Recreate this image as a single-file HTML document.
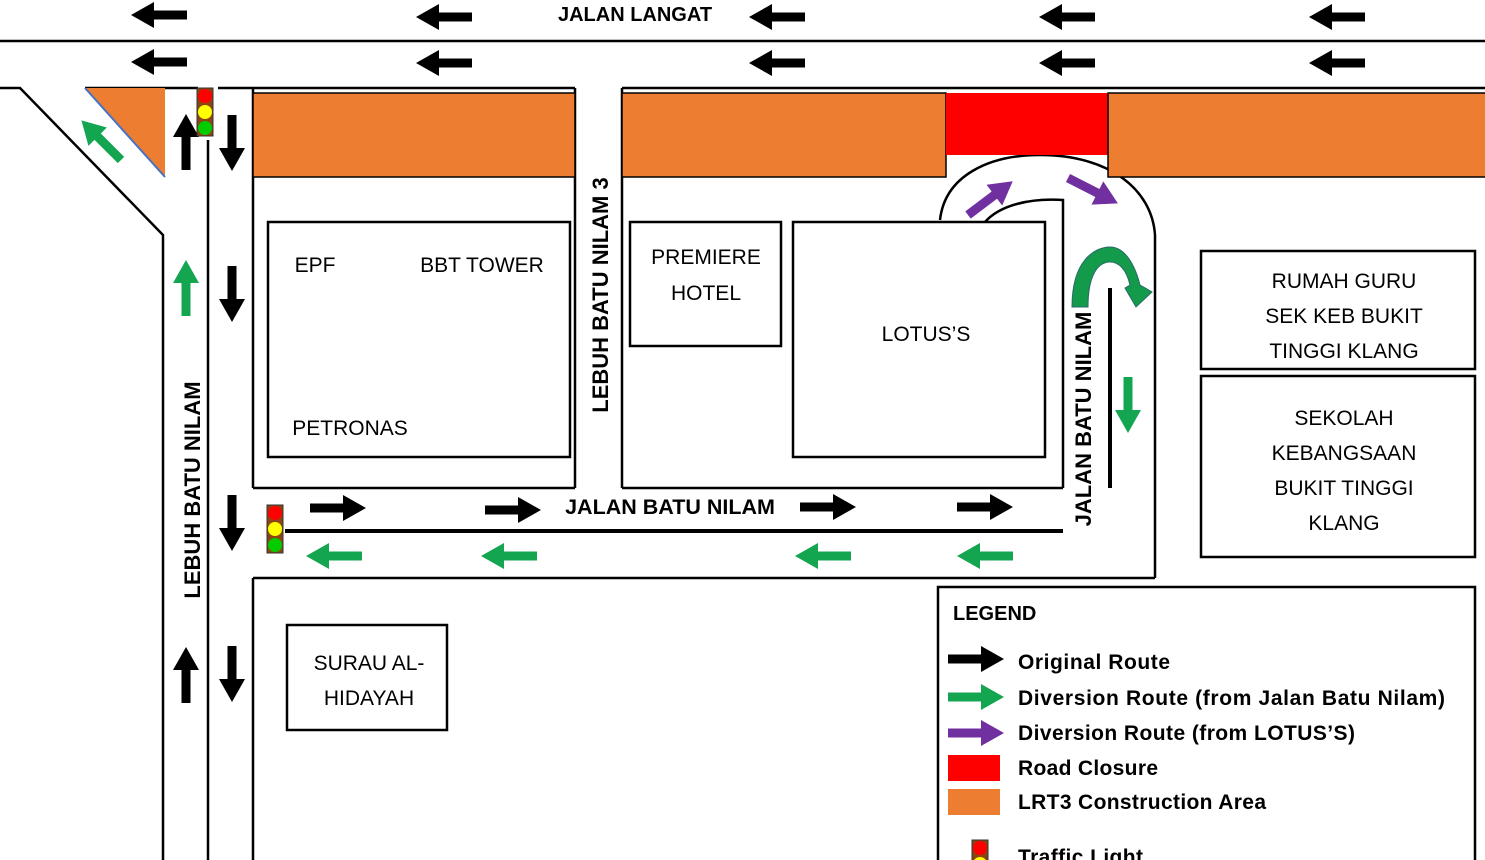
<!DOCTYPE html>
<html><head><meta charset="utf-8"><style>html,body{margin:0;padding:0;background:#fff}svg{display:block}</style></head>
<body>
<svg width="1485" height="860" viewBox="0 0 1485 860" xmlns="http://www.w3.org/2000/svg" font-family="Liberation Sans, sans-serif">
<defs>
<polygon id="ar" points="0,-4.5 33,-4.5 33,-13 56,0 33,13 33,4.5 0,4.5"/>
<g id="tl">
<rect x="-8" y="0" width="16" height="48" fill="#8b4513" stroke="#333" stroke-width="1"/>
<circle cx="0" cy="8" r="7" fill="#f00"/><circle cx="0" cy="24" r="7" fill="#ff0"/><circle cx="0" cy="40" r="7" fill="#0c0"/>
</g>
</defs>
<g fill="none" stroke="#000" stroke-width="2.5">
<line x1="0" y1="41" x2="1485" y2="41"/>
<polyline points="0,88 20,88 163,235 163,860"/>
<line x1="85" y1="88" x2="198" y2="88"/>
<line x1="218" y1="88" x2="575" y2="88"/>
<line x1="622" y1="88" x2="1485" y2="88"/>
<line x1="208" y1="140" x2="208" y2="860"/>
<line x1="253" y1="88" x2="253" y2="488"/>
<line x1="253" y1="578" x2="253" y2="860"/>
<line x1="575" y1="88" x2="575" y2="488"/>
<line x1="622" y1="88" x2="622" y2="488"/>
<line x1="253" y1="488" x2="575" y2="488"/>
<line x1="622" y1="488" x2="1063" y2="488"/>
<line x1="253" y1="578" x2="1155" y2="578"/>
<path d="M940,220 C945,175 990,155 1040,155 C1110,155 1152,190 1155,235 L1155,578"/>
<path d="M985,222 C1000,205 1030,198 1063,200 L1063,488"/>
<line x1="285" y1="531" x2="1063" y2="531" stroke-width="4"/>
<line x1="1110" y1="288" x2="1110" y2="488" stroke-width="4"/>
<rect x="268" y="222" width="302" height="235"/>
<rect x="630" y="222" width="151" height="124"/>
<rect x="793" y="222" width="252" height="235"/>
<rect x="1201" y="251" width="274" height="118"/>
<rect x="1201" y="376" width="274" height="181"/>
<rect x="287" y="625" width="160" height="105"/>
<rect x="938" y="587" width="537" height="280"/>
</g>
<polygon points="85,88 165,88 165,177" fill="#ed7d31"/>
<line x1="85" y1="88" x2="165" y2="177" stroke="#4472c4" stroke-width="2"/>
<rect x="253" y="93" width="322" height="84" fill="#ed7d31" stroke="#000" stroke-width="1.5"/>
<rect x="622" y="93" width="324" height="84" fill="#ed7d31" stroke="#000" stroke-width="1.5"/>
<rect x="946" y="93" width="162" height="62" fill="#f00"/>
<rect x="1108" y="93" width="380" height="84" fill="#ed7d31" stroke="#000" stroke-width="1.5"/>
<g fill="#000">
<use href="#ar" transform="translate(187,15) rotate(180)"/><use href="#ar" transform="translate(187,62) rotate(180)"/>
<use href="#ar" transform="translate(472,17) rotate(180)"/><use href="#ar" transform="translate(472,63) rotate(180)"/>
<use href="#ar" transform="translate(805,17) rotate(180)"/><use href="#ar" transform="translate(805,63) rotate(180)"/>
<use href="#ar" transform="translate(1095,17) rotate(180)"/><use href="#ar" transform="translate(1095,63) rotate(180)"/>
<use href="#ar" transform="translate(1365,17) rotate(180)"/><use href="#ar" transform="translate(1365,63) rotate(180)"/>
<use href="#ar" transform="translate(186,170) rotate(-90)"/>
<use href="#ar" transform="translate(232,115) rotate(90)"/>
<use href="#ar" transform="translate(232,266) rotate(90)"/>
<use href="#ar" transform="translate(232,495) rotate(90)"/>
<use href="#ar" transform="translate(186,703) rotate(-90)"/>
<use href="#ar" transform="translate(232,646) rotate(90)"/>
<use href="#ar" transform="translate(310,508)"/><use href="#ar" transform="translate(485,510)"/>
<use href="#ar" transform="translate(800,507)"/><use href="#ar" transform="translate(957,507)"/>
<use href="#ar" transform="translate(948,659)"/>
</g>
<g fill="#14a550">
<use href="#ar" transform="translate(186,316) rotate(-90)"/>
<use href="#ar" transform="translate(121,160) rotate(-135)"/>
<use href="#ar" transform="translate(362,556) rotate(180)"/><use href="#ar" transform="translate(537,556) rotate(180)"/>
<use href="#ar" transform="translate(851,556) rotate(180)"/><use href="#ar" transform="translate(1013,556) rotate(180)"/>
<use href="#ar" transform="translate(1128,377) rotate(90)"/>
<use href="#ar" transform="translate(948,697)"/>
<path d="M1072,307 C1072,260 1095,247 1110,247 C1125,247 1135,265 1140,285 L1152,292 L1136,307 L1125,288 L1130,285 C1126,268 1118,262 1110,262 C1098,262 1088,275 1088,307 Z" fill="#139a4b" stroke="#2a6a6a" stroke-width="1"/>
</g>
<g fill="#7030a0">
<use href="#ar" transform="translate(968,215) rotate(-37)"/>
<use href="#ar" transform="translate(1068,178) rotate(27)"/>
<use href="#ar" transform="translate(948,733)"/>
</g>
<use href="#tl" transform="translate(205,88)"/>
<use href="#tl" transform="translate(275,505)"/>
<use href="#tl" transform="translate(980,840)"/>
<rect x="948" y="755" width="52" height="26" fill="#f00"/>
<rect x="948" y="789" width="52" height="26" fill="#ed7d31"/>
<g font-weight="bold" font-size="20" fill="#000">
<text x="635" y="21" text-anchor="middle">JALAN LANGAT</text>
<text x="670" y="514" text-anchor="middle" font-size="21.5">JALAN BATU NILAM</text>
<text transform="translate(200,490) rotate(-90)" text-anchor="middle" font-size="22">LEBUH BATU NILAM</text>
<text transform="translate(608,295) rotate(-90)" text-anchor="middle" font-size="22">LEBUH BATU NILAM 3</text>
<text transform="translate(1091,419) rotate(-90)" text-anchor="middle" font-size="22">JALAN BATU NILAM</text>
<text x="953" y="620">LEGEND</text>
</g>
<g font-weight="bold" font-size="21" fill="#000">
<text x="1018" y="669" textLength="152">Original Route</text>
<text x="1018" y="705" textLength="427">Diversion Route (from Jalan Batu Nilam)</text>
<text x="1018" y="740" textLength="337">Diversion Route (from LOTUS’S)</text>
<text x="1018" y="775" textLength="140">Road Closure</text>
<text x="1018" y="809" textLength="248">LRT3 Construction Area</text>
<text x="1018" y="864" textLength="125">Traffic Light</text>
</g>
<g font-size="21" fill="#000" text-anchor="middle">
<text x="315" y="272">EPF</text>
<text x="482" y="272">BBT TOWER</text>
<text x="350" y="435">PETRONAS</text>
<text x="706" y="264">PREMIERE</text>
<text x="706" y="300">HOTEL</text>
<text x="926" y="341">LOTUS’S</text>
<text x="1344" y="288">RUMAH GURU</text>
<text x="1344" y="323">SEK KEB BUKIT</text>
<text x="1344" y="358">TINGGI KLANG</text>
<text x="1344" y="425">SEKOLAH</text>
<text x="1344" y="460">KEBANGSAAN</text>
<text x="1344" y="495">BUKIT TINGGI</text>
<text x="1344" y="530">KLANG</text>
<text x="369" y="670">SURAU AL-</text>
<text x="369" y="705">HIDAYAH</text>
</g>
</svg>
</body></html>
